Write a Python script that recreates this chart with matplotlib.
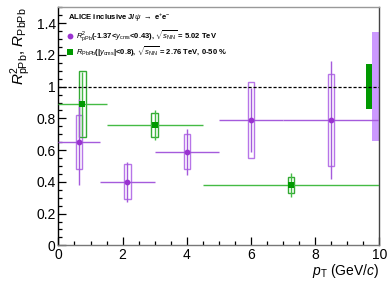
import numpy as np
import matplotlib.pyplot as plt
from matplotlib.patches import Rectangle
from matplotlib.ticker import MultipleLocator, FormatStrFormatter

plt.rcParams['font.family'] = ['Liberation Sans', 'DejaVu Sans']
plt.rcParams['mathtext.fontset'] = 'custom'
plt.rcParams['mathtext.rm'] = 'Liberation Sans'
plt.rcParams['mathtext.it'] = 'Liberation Sans:italic'
plt.rcParams['mathtext.bf'] = 'Liberation Sans:bold'

# p-Pb, R^2 (-1.37 < y_cms < 0.43), 5.02 TeV
pt_ppb = [0.65, 2.15, 4.0, 6.0, 8.5]
pt_ppb_lo = [0.0, 1.3, 3.0, 5.0, 7.0]
pt_ppb_hi = [1.3, 3.0, 5.0, 7.0, 10.0]
r_ppb = [0.65, 0.40, 0.59, 0.79, 0.79]
stat_ppb = [0.27, 0.125, 0.145, 0.20, 0.37]
syst_ppb = [0.17, 0.11, 0.11, 0.24, 0.29]
glob_ppb = 0.345

# Pb-Pb, |y_cms| < 0.8, 2.76 TeV, 0-50 %
pt_pbpb = [0.75, 3.0, 7.25]
pt_pbpb_lo = [0.0, 1.5, 4.5]
pt_pbpb_hi = [1.5, 4.5, 10.0]
r_pbpb = [0.89, 0.76, 0.38]
stat_pbpb = [0.20, 0.095, 0.075]
syst_pbpb = [0.207, 0.075, 0.052]
glob_pbpb = 0.14

c_ppb = '#9a33d0'
c_ppb_box = '#b775e8'
c_ppb_glob = '#cc99ff'
c_pbpb = '#009900'
c_pbpb_box = '#33aa33'
c_pbpb_line = '#44bb44'

fig = plt.figure(figsize=(3.91, 2.83), dpi=100)
ax = fig.add_axes([0.1494, 0.1332, 0.8206, 0.8408])


def draw_series(ax, x, xlo, xhi, y, stat, syst, col, col_box, col_line, marker, ms):
    x = np.array(x)
    y = np.array(y)
    xerr = [x - np.array(xlo), np.array(xhi) - x]
    ax.errorbar(x, y, xerr=xerr, yerr=stat, fmt='none', ecolor=col_line,
                elinewidth=1.0, capsize=0, zorder=3)
    for xi, yi, si in zip(x, y, syst):
        ax.add_patch(Rectangle((xi - 0.1, yi - si), 0.2, 2 * si, fill=False,
                               edgecolor=col_box, lw=1.0, zorder=2))
    ax.plot(x, y, ls='none', marker=marker, ms=ms, color=col,
            markeredgewidth=0, zorder=4)


draw_series(ax, pt_ppb, pt_ppb_lo, pt_ppb_hi, r_ppb, stat_ppb, syst_ppb,
            c_ppb, c_ppb_box, '#a55bdc', 'o', 4.2)
draw_series(ax, pt_pbpb, pt_pbpb_lo, pt_pbpb_hi, r_pbpb, stat_pbpb, syst_pbpb,
            c_pbpb, c_pbpb_box, c_pbpb_line, 's', 4.5)

# global uncertainties
ax.add_patch(Rectangle((9.58, 1 - glob_pbpb), 0.2, 2 * glob_pbpb,
                       facecolor=c_pbpb, edgecolor='none', zorder=2))
ax.add_patch(Rectangle((9.78, 1 - glob_ppb), 0.22, 2 * glob_ppb,
                       facecolor=c_ppb_glob, edgecolor='none', zorder=2))

ax.axhline(1.0, color='black', ls=(0, (2.5, 1.5)), lw=0.9, zorder=5)

ax.set_xlim(0, 10)
ax.set_ylim(0, 1.5)
ax.xaxis.set_major_locator(MultipleLocator(2))
ax.xaxis.set_minor_locator(MultipleLocator(0.5))
ax.yaxis.set_major_locator(MultipleLocator(0.2))
ax.yaxis.set_minor_locator(MultipleLocator(0.05))
ax.yaxis.set_major_formatter(FormatStrFormatter('%g'))
ax.tick_params(which='both', direction='in', top=False, right=False,
               labelsize=10, pad=2)
ax.tick_params(which='major', length=6, width=0.9)
ax.tick_params(which='minor', length=3, width=0.9)

ax.spines['left'].set_color('black')
ax.spines['bottom'].set_color('#777777')
ax.spines['top'].set_color('#999999')
ax.spines['right'].set_color('#444444')
for s in ax.spines.values():
    s.set_linewidth(1.0)

ax.set_xlabel(r'$p_{\rm T}$ (GeV/$c$)', loc='right', fontsize=10, labelpad=0)
ax.set_ylabel(r'$R^2_{\rm pPb}$, $R_{\rm PbPb}$', loc='top', fontsize=11,
              labelpad=2)

# legend
ax.text(0.03, 0.955, r'ALICE inclusive J/$\psi$ $\rightarrow$ e$^{+}$e$^{-}$',
        transform=ax.transAxes, fontsize=5.5, fontweight='bold', va='center')
ax.plot([0.036], [0.88], transform=ax.transAxes, marker='o', ms=4.2,
        color=c_ppb, markeredgewidth=0)
ax.text(0.056, 0.88,
        r'$R^2_{\rm pPb}$(-1.37<$y_{\rm cms}$<0.43), $\sqrt{s_{\rm NN}}$ = 5.02 TeV',
        transform=ax.transAxes, fontsize=5.5, fontweight='bold', va='center')
ax.plot([0.036], [0.813], transform=ax.transAxes, marker='s', ms=4.5,
        color=c_pbpb, markeredgewidth=0)
ax.text(0.056, 0.813,
        r'$R_{\rm PbPb}$(|$y_{\rm cms}$|<0.8), $\sqrt{s_{\rm NN}}$ = 2.76 TeV, 0-50 %',
        transform=ax.transAxes, fontsize=5.5, fontweight='bold', va='center')

plt.savefig('out.png', dpi=100)
